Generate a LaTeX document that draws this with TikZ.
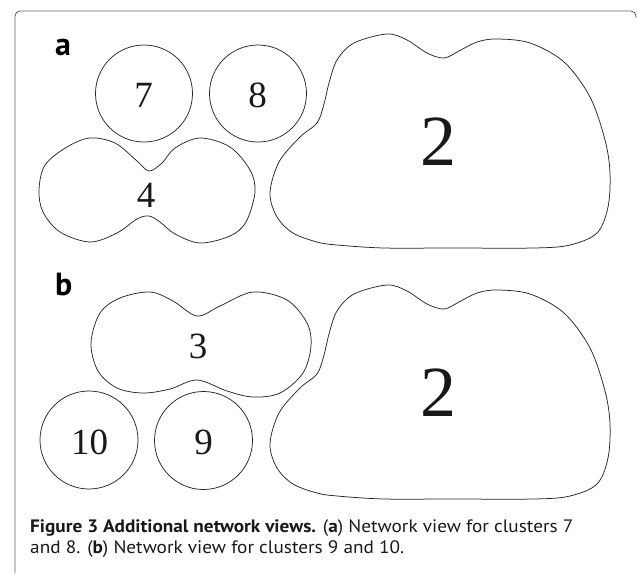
\documentclass[tikz,border=0pt]{standalone}
\usepackage{fontspec}
\setmainfont{Liberation Serif}
\newfontfamily\capfont{PT Sans}
\begin{document}
\begin{tikzpicture}[x=1pt,y=-1pt,
  blob/.style={draw=black!85,line width=0.75pt},
  num/.style={inner sep=0pt,anchor=base,text=black!90,font=\fontsize{37}{40}\selectfont},
  bignum/.style={inner sep=0pt,anchor=base,text=black!90,font=\fontsize{72}{76}\selectfont},
  panel/.style={inner sep=0pt,anchor=base west,font=\capfont\bfseries\fontsize{32}{36}\selectfont},
  capline/.style={inner sep=0pt,anchor=base west,text=black!90,font=\capfont\fontsize{18}{21}\selectfont},
  cloud/.pic={\draw[blob] plot[smooth cycle,tension=0.55] coordinates {
    (270,193) (279,162) (300,137) (317,123) (324,104) (329,83) (337,60) (354,43)
    (387,34) (407,40) (427,53) (444,58) (459,51) (477,42) (497,39) (530,43)
    (564,62) (590,97) (605,140) (610,173) (608,207) (597,233) (570,245) (534,248)
    (450,248) (384,248) (337,245) (317,242) (293,233) (277,217)};}
]
\useasboundingbox (0,0) rectangle (637,573);
% frame
\draw[black!60,line width=0.9pt,rounded corners=5pt] (15,573) -- (15,11) -- (636,11) -- (636,18);
% panel a
\node[panel] (la) at (55,55) {a};
\draw[blob] (144,93.5) circle[radius=48.5];
\draw[blob] (258,93.5) circle[radius=48.5];
\node[num] (n7) at (143.5,107) {7};
\node[num] (n8) at (257.5,107) {8};
\draw[blob] plot[smooth cycle,tension=0.55] coordinates {
  (149,171) (162,163) (175,148) (200,138) (230,147) (250,170) (255,192)
  (246,222) (230,236) (200,243) (175,234) (160,222) (149,216) (137,219)
  (117,233) (90,242) (60,232) (43,212) (39,190) (45,165) (67,147) (90,138)
  (115,143) (137,161)};
\node[num] (n4) at (146,207) {4};
\pic at (0,0) {cloud};
\node[bignum] (n2a) at (438,165) {2};
% panel b
\node[panel] (lb) at (55,295) {b};
\draw[blob] plot[smooth cycle,tension=0.55] coordinates {
  (91,343) (98,371) (117,388) (143,393) (170,389) (197,380) (227,391)
  (253,397) (280,393) (303,373) (311,346) (307,323) (287,300) (253,292)
  (220,306) (197,316) (173,301) (150,292) (120,298) (100,313)};
\node[num] (n3) at (198,358) {3};
\draw[blob] (89,440) circle[radius=49];
\draw[blob] (203.5,440.5) circle[radius=49];
\node[num] (n10) at (89.5,454) {10};
\node[num] (n9) at (203.5,454) {9};
\pic at (0,251) {cloud};
\node[bignum] (n2b) at (438,416) {2};
% caption
\node[capline] (c1) at (30,532) {\scalebox{1.07}[1]{\textbf{Figure 3 Additional network views.} (\textbf{a}) Network view for clusters 7}};
\node[capline] (c2) at (30,553) {\scalebox{1.07}[1]{and 8. (\textbf{b}) Network view for clusters 9 and 10.}};
\end{tikzpicture}
\end{document}
